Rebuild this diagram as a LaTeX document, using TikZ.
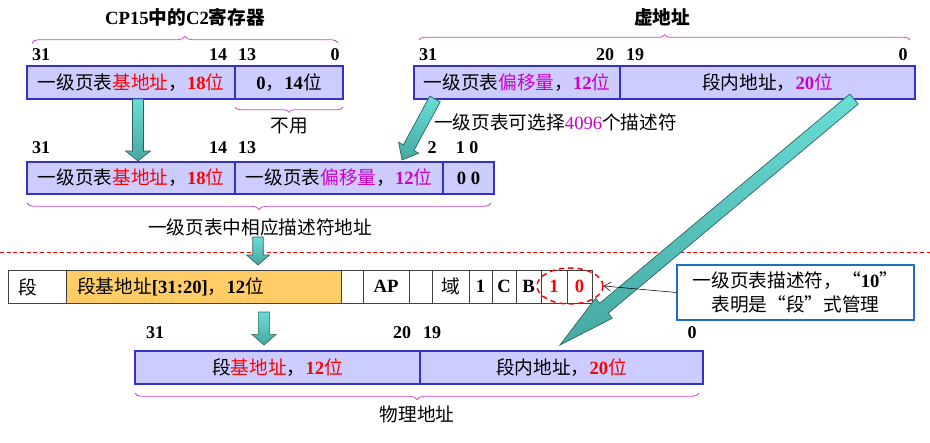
\documentclass[tikz,border=0pt]{standalone}
\usepackage{fontspec}
\setmainfont{Noto Sans CJK SC}
\newfontfamily\tnr{Liberation Serif}
\usetikzlibrary{calc,decorations.pathreplacing,arrows.meta,shapes.geometric}
\definecolor{lav}{HTML}{CCCCFF}
\definecolor{bord}{HTML}{3333CC}
\definecolor{mag}{HTML}{CC00CC}
\definecolor{bracecol}{HTML}{CC44CC}
\definecolor{orng}{HTML}{FFCC66}
\definecolor{tealL}{HTML}{6ADCD6}
\definecolor{tealD}{HTML}{45A9A2}
\definecolor{tealO}{HTML}{2F5F5B}
\definecolor{cob}{HTML}{1F6FC0}
\newcommand\bnum[1]{{\tnr\bfseries #1}}
\newcommand\cell[7]{\node[#6,minimum width={(#4-#2)*0.75pt},minimum height={(#5-#3)*0.75pt},anchor=north west] (#1) at (#2,#3) {#7};}
\newcommand\blockarrow[5]{%
 \coordinate (bah) at ($(#2)!#5!(#1)$);
 \path[tarrow] ($(#1)!#3!90:(#2)$) -- ($(bah)!#3!90:(#2)$) -- ($(bah)!#4!90:(#2)$) -- (#2) -- ($(bah)!#4!-90:(#2)$) -- ($(bah)!#3!-90:(#2)$) -- ($(#1)!#3!-90:(#2)$) -- cycle;}
\tikzset{
 lbox/.style={draw=bord, fill=lav, line width=0.8pt, inner sep=0pt, outer sep=0pt},
 dbox/.style={draw=black!75, fill=white, line width=0.6pt, inner sep=0pt, outer sep=0pt},
 obox/.style={dbox, fill=orng},
 bitnum/.style={font=\fontsize{13.5}{15}\selectfont\tnr\bfseries, inner sep=0pt},
 lbl/.style={inner sep=0pt},
 bracestyle/.style={draw=bracecol, line width=0.6pt, decorate, decoration={brace, amplitude=#1}},
 tarrow/.style={draw=tealO, line width=0.5pt, top color=tealL, bottom color=tealD},
}
\begin{document}
\begin{tikzpicture}[x=0.75pt,y=-0.75pt,font=\fontsize{14}{16}\selectfont]
\useasboundingbox (0,0) rectangle (930,442);
% separator
\coordinate (sepL) at (0,252);
\coordinate (sepR) at (930,252);
\draw[red, dash pattern=on 3pt off 2pt, line width=0.5pt] (sepL) -- (sepR);

% ===== CP15 C2 register =====
\node[lbl] (t1) at (185,17) {\bfseries\bnum{CP15}中的\bnum{C2}寄存器};
\draw[bracestyle=5pt] (32,43) -- (338,43);
\node[bitnum] (n1a) at (41,55) {31};
\node[bitnum] (n1b) at (218,55) {14};
\node[bitnum] (n1c) at (247,55) {13};
\node[bitnum] (n1d) at (335,55) {0};
\cell{c1a}{27}{66}{235}{99}{lbox}{一级页表\textcolor{red}{基地址}，\textcolor{red}{\bnum{18}位}}
\cell{c1b}{235}{66}{343}{99}{lbox}{\bnum{0}，\bnum{14}位}
\draw[bracestyle=4pt] (343,107) -- (235,107);
\node[lbl] (nu) at (289,126) {不用};

% ===== virtual address =====
\node[lbl] (t2) at (662,17) {\bfseries 虚地址};
\draw[bracestyle=4pt] (419,40) -- (910,40);
\node[bitnum] (n2a) at (428,55) {31};
\node[bitnum] (n2b) at (605,55) {20};
\node[bitnum] (n2c) at (635,55) {19};
\node[bitnum] (n2d) at (903,55) {0};
\cell{v1}{414}{66}{620}{99}{lbox}{一级页表\textcolor{mag}{偏移量}，\textcolor{mag}{\bnum{12}位}}
\cell{v2}{620}{66}{915}{99}{lbox}{段内地址，\textcolor{mag}{\bnum{20}位}}
\node[lbl, anchor=west] (sel) at (434,122) {一级页表可选择\textcolor{mag}{{\tnr 4096}}个描述符};

% ===== descriptor address =====
\node[bitnum] (n3a) at (41,148) {31};
\node[bitnum] (n3b) at (218,148) {14};
\node[bitnum] (n3c) at (247,148) {13};
\node[bitnum] (n3d) at (432,148) {2};
\node[bitnum] (n3e) at (467,148) {1 0};
\cell{m1}{27}{162}{235}{194}{lbox}{一级页表\textcolor{red}{基地址}，\textcolor{red}{\bnum{18}位}}
\cell{m2}{235}{162}{443}{194}{lbox}{一级页表\textcolor{mag}{偏移量}，\textcolor{mag}{\bnum{12}位}}
\cell{m3}{443}{162}{494}{194}{lbox}{\bnum{0 0}}
\draw[bracestyle=5pt] (491,203) -- (27,203);
\node[lbl] (dl) at (260,227) {一级页表中相应描述符地址};

% ===== descriptor =====
\cell{d1}{8}{270}{66}{303}{dbox}{}
\cell{d2}{66}{270}{341}{303}{obox}{}
\cell{d3}{341}{270}{363}{303}{dbox}{}
\cell{d4}{363}{270}{409}{303}{dbox}{\bnum{AP}}
\cell{d5}{409}{270}{432}{303}{dbox}{}
\cell{d6}{432}{270}{469}{303}{dbox}{域}
\cell{d7}{469}{270}{492}{303}{dbox}{\bnum{1}}
\cell{d8}{492}{270}{516}{303}{dbox}{\bnum{C}}
\cell{d9}{516}{270}{541}{303}{dbox}{\bnum{B}}
\cell{d10}{541}{270}{567}{303}{dbox}{\textcolor{red}{\bnum{1}}}
\cell{d11}{567}{270}{592}{303}{dbox}{\textcolor{red}{\bnum{0}}}
\node[lbl, anchor=west] (d1t) at (18,287) {段};
\node[lbl, anchor=west] (d2t) at (77,287) {段基地址\bnum{[31:20]}，\bnum{12}位};
\node[draw=red, dash pattern=on 4pt off 3pt, line width=1.1pt, ellipse, minimum width=49.5pt, minimum height=27pt, inner sep=0pt] (el) at (570,286) {};

% ===== physical address =====
\node[bitnum] (n4a) at (155,333) {31};
\node[bitnum] (n4b) at (402,333) {20};
\node[bitnum] (n4c) at (432,333) {19};
\node[bitnum] (n4d) at (692,333) {0};
\cell{p1}{135}{351}{420}{384}{lbox}{段\textcolor{red}{基地址}，\textcolor{red}{\bnum{12}位}}
\cell{p2}{420}{351}{703}{384}{lbox}{段内地址，\textcolor{red}{\bnum{20}位}}
\draw[bracestyle=5pt] (699,393) -- (135,393);
\node[lbl] (pl) at (417,414) {物理地址};

% ===== block arrows =====
\coordinate (a1s) at (138,99);   \coordinate (a1e) at (138,161);
\coordinate (a2s) at (435,99);   \coordinate (a2e) at (402,160);
\coordinate (a3s) at (854,99);   \coordinate (a3e) at (560,345);
\coordinate (a4s) at (258,237);  \coordinate (a4e) at (258,265);
\coordinate (a5s) at (264,312);  \coordinate (a5e) at (264,345);
\blockarrow{a1s}{a1e}{4.1pt}{9.4pt}{7.5pt}
\blockarrow{a2s}{a2e}{4.5pt}{8.6pt}{10.5pt}
\blockarrow{a3s}{a3e}{4.9pt}{9.8pt}{43pt}
\blockarrow{a4s}{a4e}{3.9pt}{8.6pt}{7.5pt}
\blockarrow{a5s}{a5e}{4.2pt}{9pt}{8pt}

% ===== callout =====
\node[draw=cob, line width=0.8pt, fill=white, minimum width=177.75pt, minimum height=41.25pt, align=center, inner sep=0pt, font=\fontsize{14}{18.5}\selectfont] (co) at (795.5,292.5) {一级页表描述符，“\bnum{10}”\\表明是“段”式管理};
\draw[-{Straight Barb[length=5pt,width=7pt]}, line width=0.4pt] (co.west) -- (el.east);
\end{tikzpicture}
\end{document}
